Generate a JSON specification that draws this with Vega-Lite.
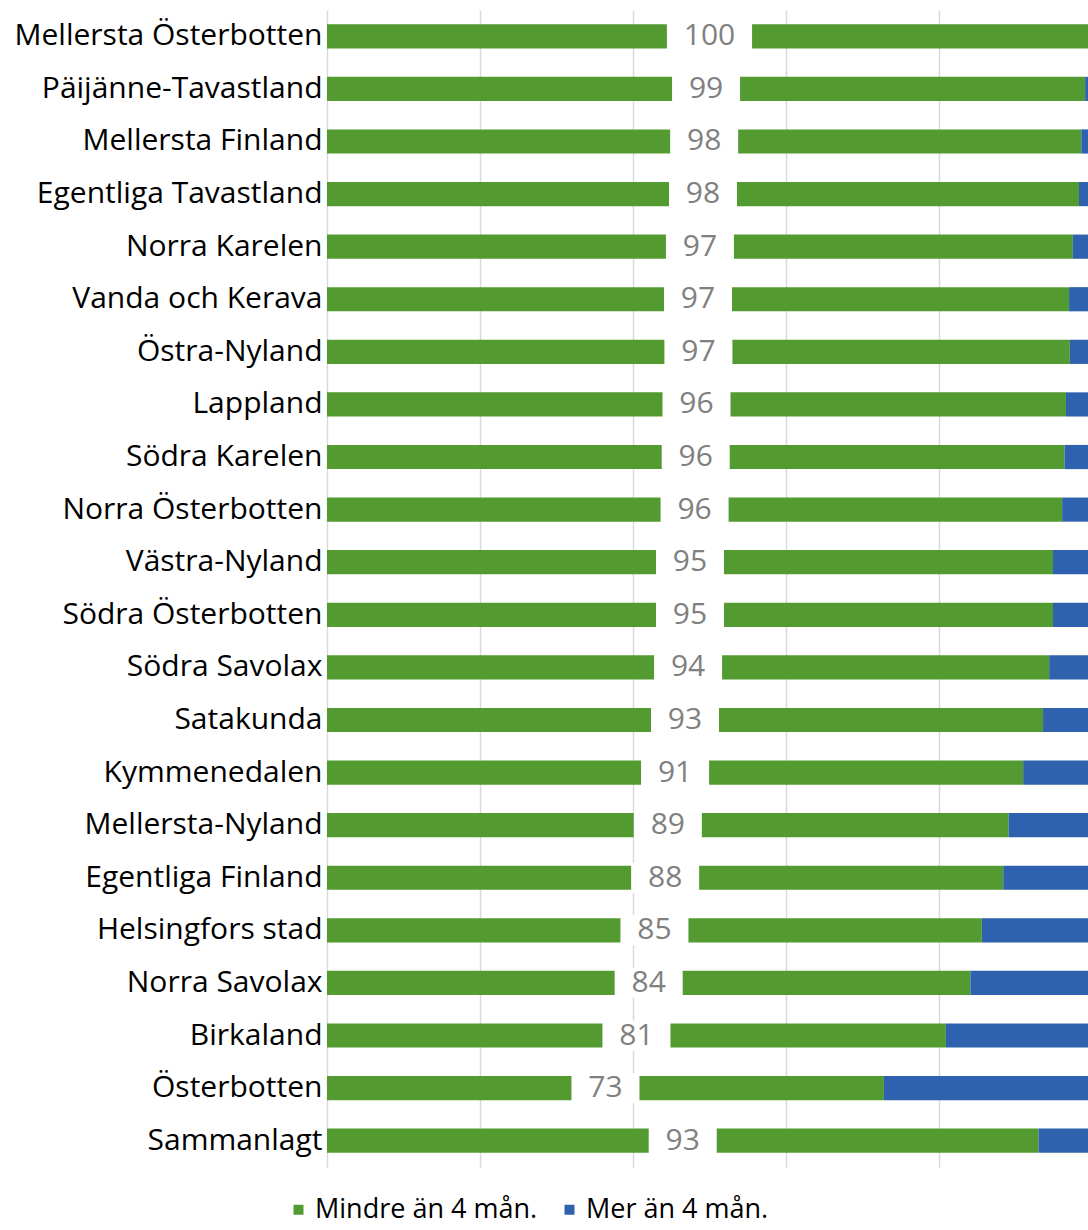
{
  "$schema": "https://vega.github.io/schema/vega-lite/v6.json",
  "width": 765,
  "height": 1157,
  "padding": {"left": 0, "top": 10, "right": 0, "bottom": 6},
  "config": {"view": {"stroke": null}, "font": "Open Sans"},
  "data": {"values": [
    {"region": "Mellersta Österbotten", "mindre": 100, "mer": 0, "label": 100},
    {"region": "Päijänne-Tavastland", "mindre": 99.1, "mer": 0.9, "label": 99},
    {"region": "Mellersta Finland", "mindre": 98.6, "mer": 1.4, "label": 98},
    {"region": "Egentliga Tavastland", "mindre": 98.3, "mer": 1.7, "label": 98},
    {"region": "Norra Karelen", "mindre": 97.5, "mer": 2.5, "label": 97},
    {"region": "Vanda och Kerava", "mindre": 97.0, "mer": 3.0, "label": 97},
    {"region": "Östra-Nyland", "mindre": 97.1, "mer": 2.9, "label": 97},
    {"region": "Lappland", "mindre": 96.6, "mer": 3.4, "label": 96},
    {"region": "Södra Karelen", "mindre": 96.4, "mer": 3.6, "label": 96},
    {"region": "Norra Österbotten", "mindre": 96.1, "mer": 3.9, "label": 96},
    {"region": "Västra-Nyland", "mindre": 94.9, "mer": 5.1, "label": 95},
    {"region": "Södra Österbotten", "mindre": 94.9, "mer": 5.1, "label": 95},
    {"region": "Södra Savolax", "mindre": 94.4, "mer": 5.6, "label": 94},
    {"region": "Satakunda", "mindre": 93.6, "mer": 6.4, "label": 93},
    {"region": "Kymmenedalen", "mindre": 91.0, "mer": 9.0, "label": 91},
    {"region": "Mellersta-Nyland", "mindre": 89.1, "mer": 10.9, "label": 89},
    {"region": "Egentliga Finland", "mindre": 88.4, "mer": 11.6, "label": 88},
    {"region": "Helsingfors stad", "mindre": 85.6, "mer": 14.4, "label": 85},
    {"region": "Norra Savolax", "mindre": 84.1, "mer": 15.9, "label": 84},
    {"region": "Birkaland", "mindre": 80.9, "mer": 19.1, "label": 81},
    {"region": "Österbotten", "mindre": 72.8, "mer": 27.2, "label": 73},
    {"region": "Sammanlagt", "mindre": 93.0, "mer": 7.0, "label": 93}
  ]},
  "encoding": {
    "y": {
      "field": "region", "type": "nominal", "sort": null,
      "scale": {"paddingInner": 0.54, "paddingOuter": 0.27},
      "axis": {
        "title": null, "ticks": false, "domain": false,
        "labelFontSize": 30, "labelColor": "#000000", "labelPadding": 5,
        "labelLimit": 400, "minExtent": 327, "maxExtent": 327
      }
    }
  },
  "resolve": {"scale": {"x": "independent"}},
  "layer": [
    {
      "transform": [{"fold": ["mindre", "mer"], "as": ["kategori", "andel"]}],
      "mark": {"type": "bar"},
      "encoding": {
        "x": {
          "field": "andel", "type": "quantitative", "stack": "zero",
          "scale": {"domain": [0, 100], "nice": false},
          "axis": {
            "title": null, "labels": false, "ticks": false, "domain": false,
            "values": [0, 20, 40, 60, 80, 100],
            "grid": true, "gridColor": "#d9d9d9", "gridWidth": 1.5
          }
        },
        "color": {
          "field": "kategori", "type": "nominal",
          "scale": {"domain": ["mindre", "mer"], "range": ["#539B31", "#2F62AE"]},
          "legend": {
            "title": null, "orient": "none", "direction": "horizontal",
            "legendX": -42, "legendY": 1186,
            "labelExpr": "datum.label == 'mindre' ? 'Mindre än 4 mån.' : 'Mer än 4 mån.'",
            "labelFontSize": 27, "labelColor": "#000000", "labelLimit": 400,
            "symbolType": "square", "symbolSize": 100, "symbolStrokeWidth": 0,
            "columnPadding": 18, "labelOffset": 3
          }
        },
        "order": {"field": "kategori", "sort": "descending"}
      }
    },
    {
      "mark": {"type": "point", "filled": true, "color": "#ffffff", "opacity": 1,
               "shape": "M-1.4,-0.62H1.4V0.62H-1.4Z"},
      "encoding": {
        "x": {"field": "mindre", "type": "quantitative",
              "scale": {"domain": [0, 200], "nice": false}, "axis": null},
        "size": {"condition": {"test": "datum.label >= 100", "value": 3700}, "value": 2360}
      }
    },
    {
      "mark": {"type": "text", "fontSize": 30, "color": "#808080", "baseline": "middle", "align": "center"},
      "encoding": {
        "x": {"field": "mindre", "type": "quantitative",
              "scale": {"domain": [0, 200], "nice": false}, "axis": null},
        "text": {"field": "label", "type": "quantitative"}
      }
    }
  ]
}
